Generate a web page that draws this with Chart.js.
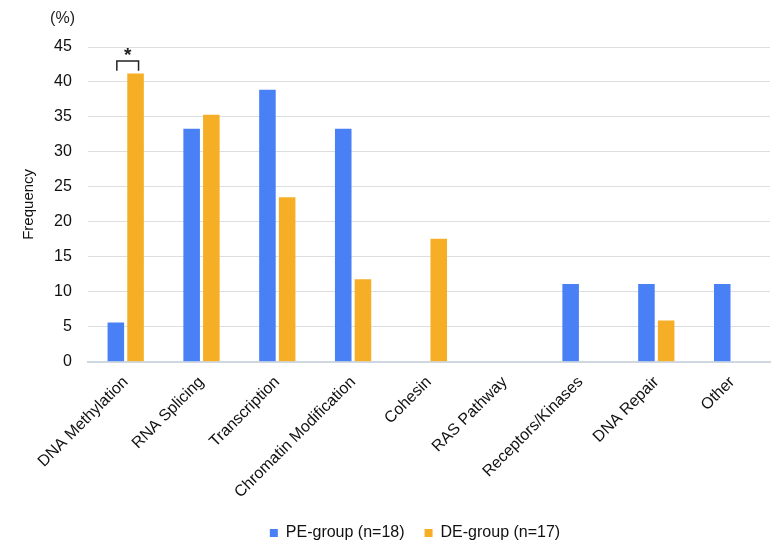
<!DOCTYPE html>
<html>
<head>
<meta charset="utf-8">
<script src="https://cdn.jsdelivr.net/npm/chart.js@4.4.0/dist/chart.umd.min.js"></script>
<style>
  html, body { margin: 0; padding: 0; background: #fff; }
  #wrap { width: 781px; height: 551px; }
</style>
</head>
<body>
<div id="wrap"><canvas id="freqChart" width="781" height="551"></canvas></div>
<script>
// data
const categories = ["DNA Methylation", "RNA Splicing", "Transcription", "Chromatin Modification", "Cohesin", "RAS Pathway", "Receptors/Kinases", "DNA Repair", "Other"];
const peValues = [5.6, 33.3, 38.9, 33.3, 0, 0, 11.1, 11.1, 11.1];
const deValues = [41.2, 35.3, 23.5, 11.8, 17.6, 0, 0, 5.9, 0];
const yTicks = [0, 5, 10, 15, 20, 25, 30, 35, 40, 45];
const bracketLevel = 43; // top of the significance bracket (%)

const FONT = "'Liberation Sans', Arial, Helvetica, sans-serif";

// significance bracket + "(%)" unit label, legend nudged to sit under the plot
const annotations = {
  id: "annotations",
  afterLayout(chart) {
    chart.legend.left += 22;
    chart.legend.right += 22;
  },
  afterDatasetsDraw(chart) {
    const ctx = chart.ctx;
    const y = chart.scales.y;
    const a = chart.getDatasetMeta(0).data[0];
    const b = chart.getDatasetMeta(1).data[0];
    const top = y.getPixelForValue(bracketLevel);
    const low = y.getPixelForValue(bracketLevel - 1.4);
    const x1 = a.x + 1, x2 = b.x + 3;
    ctx.save();
    ctx.strokeStyle = "#222";
    ctx.lineWidth = 1.5;
    ctx.beginPath();
    ctx.moveTo(x1, low);
    ctx.lineTo(x1, top);
    ctx.lineTo(x2, top);
    ctx.lineTo(x2, low);
    ctx.stroke();
    ctx.fillStyle = "#222";
    ctx.font = "bold 19px " + FONT;
    ctx.textAlign = "center";
    ctx.textBaseline = "bottom";
    ctx.fillText("*", (x1 + x2) / 2, top + 4);
    // unit label
    ctx.font = "16px " + FONT;
    ctx.textAlign = "right";
    ctx.textBaseline = "middle";
    ctx.fillText("(%)", 75, 19);
    ctx.restore();
  }
};

const freq_ctx = document.getElementById("freqChart");

const freqChart = new Chart(freq_ctx, {
  type: "bar",
  data: {
    labels: categories,
    datasets: [
      {
        label: "PE-group (n=18)",
        data: peValues,
        backgroundColor: "#4a80f5",
      },
      {
        label: "DE-group (n=17)",
        data: deValues,
        backgroundColor: "#f6ae26",
      },
    ],
  },
  options: {
    responsive: false,
    animation: false,
    layout: {
      padding: { top: 47, right: 11, left: 16, bottom: 0 },
    },
    datasets: {
      bar: {
        categoryPercentage: 0.52,
        barPercentage: 0.84,
      },
    },
    scales: {
      x: {
        grid: { display: false },
        border: { color: "#cfd8e0", width: 2 },
        ticks: {
          color: "#111",
          font: { family: FONT, size: 16 },
          maxRotation: 45,
          minRotation: 45,
          padding: 3,
        },
      },
      y: {
        min: 0,
        max: 45,
        afterBuildTicks(axis) {
          axis.ticks = yTicks.map(v => ({ value: v }));
        },
        grid: { color: "#dcdfe2", drawTicks: false },
        border: { display: false },
        ticks: {
          color: "#111",
          font: { family: FONT, size: 16 },
          padding: 16,
        },
        title: {
          display: true,
          text: "Frequency",
          color: "#111",
          font: { family: FONT, size: 15 },
          padding: { bottom: 0 },
        },
      },
    },
    plugins: {
      legend: {
        position: "bottom",
        labels: {
          color: "#111",
          font: { family: FONT, size: 16 },
          boxWidth: 8,
          boxHeight: 8,
          padding: 20,
        },
      },
      tooltip: { enabled: false },
    },
  },
  plugins: [annotations],
});
</script>
</body>
</html>
